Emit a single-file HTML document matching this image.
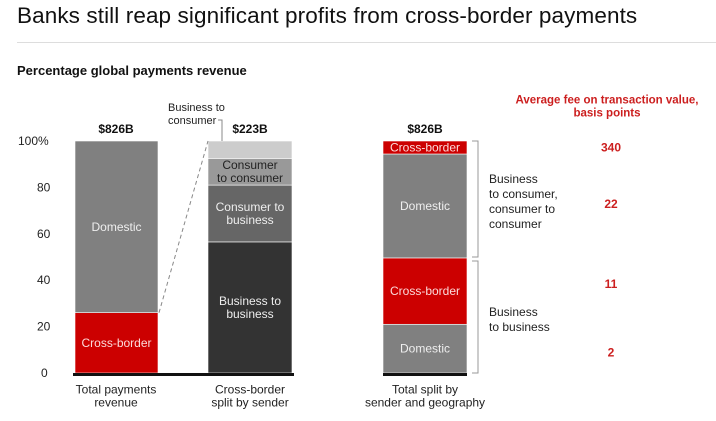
<!DOCTYPE html>
<html><head><meta charset="utf-8"><style>
body{margin:0;background:#fff;font-family:"Liberation Sans",sans-serif;}
#wrap{position:relative;width:716px;height:421px;overflow:hidden;}
h1{position:absolute;left:17px;top:3px;margin:0;font-size:22.5px;font-weight:normal;color:#111;letter-spacing:0.1px;}
#rule{position:absolute;left:17px;top:42px;width:699px;height:1px;background:#ddd;}
h2{position:absolute;left:17px;top:63px;margin:0;font-size:13px;font-weight:bold;color:#111;}
</style></head><body><div id="wrap">
<h1>Banks still reap significant profits from cross-border payments</h1>
<div id="rule"></div>
<h2>Percentage global payments revenue</h2>
<svg id="chart" width="716" height="421" style="position:absolute;left:0;top:0" font-family="Liberation Sans, sans-serif"></svg>
</div>
<script>
const ticks=[0,20,40,60,80,100];
const bar1Labels=["Cross-border","Domestic"];
const bar1Values=[26,74];
const bar2Labels=["Business to\nbusiness","Consumer to\nbusiness","Consumer\nto consumer",""];
const bar2Values=[56.5,24.5,11.5,7.5];
const bar3Labels=["Domestic","Cross-border","Domestic","Cross-border"];
const bar3Values=[21,28.6,44.8,5.6];
const fees=["2","11","22","340"];
const totals=["$826B","$223B","$826B"];

const svg=document.getElementById('chart');const NS='http://www.w3.org/2000/svg';
const y0=373,y1=141;const y=v=>y0-(v/100)*(y0-y1);
function mk(t,a,txt){const e=document.createElementNS(NS,t);for(const k in a)e.setAttribute(k,a[k]);if(txt!==undefined)e.textContent=txt;svg.appendChild(e);return e;}
function mtext(x,yc,str,a){const lines=str.split('\n');const lh=13;const e=mk('text',Object.assign({x:x,'text-anchor':'middle','font-size':12},a));lines.forEach((l,i)=>{const ts=document.createElementNS(NS,'tspan');ts.setAttribute('x',x);ts.setAttribute('y',yc+4+(i-(lines.length-1)/2)*lh);ts.textContent=l;e.appendChild(ts);});return e;}
ticks.forEach(t=>{const e=mk('text',{x:t==100?18:(t==0?41:37),y:y(t)+4,'font-size':12,fill:'#222'},t==100?'100%':String(t));

});
function stack(x,w,vals,fills,labels,txtFills,name){let acc=0;vals.forEach((v,i)=>{const r=mk('rect',{x:x,y:y(acc+v),width:w,height:y(acc)-y(acc+v),fill:fills[i],stroke:'#fff','stroke-width':0.6});


if(labels[i]){const t=mtext(x+w/2,(y(acc)+y(acc+v))/2,labels[i],{fill:txtFills[i]});

}
acc+=v;});}
stack(75,83,bar1Values,['#cc0000','#808080'],bar1Labels,['#fbdada','#eee'],'bar-total');
stack(208,84,bar2Values,['#333333','#666666','#999999','#cccccc'],bar2Labels,['#eee','#eee','#222','#222'],'bar-crossborder');
stack(383,84,bar3Values,['#808080','#cc0000','#808080','#cc0000'],bar3Labels,['#eee','#fbdada','#eee','#fbdada'],'bar-split');
const base=mk('rect',{x:73,y:373,width:221,height:3,fill:'#111'});


const base2=mk('rect',{x:383,y:373,width:84,height:3,fill:'#111'});


const dl=mk('line',{x1:159,y1:y(bar1Values[0]),x2:208,y2:y(100),stroke:'#888','stroke-dasharray':'4,3'});


[[116,totals[0]],[250,totals[1]],[425,totals[2]]].forEach((p,i)=>{const t=mk('text',{x:p[0],y:133,'text-anchor':'middle','font-size':12,'font-weight':'bold',fill:'#111'},p[1]);

});
const cl=mk('text',{x:168,'font-size':11,fill:'#222'});['Business to','consumer'].forEach((l,i)=>{const ts=document.createElementNS(NS,'tspan');ts.setAttribute('x',168);ts.setAttribute('y',111+i*13);ts.textContent=l;cl.appendChild(ts);});


const cline=mk('path',{d:'M218,120 H222 V141',stroke:'#888',fill:'none'});


[[116,"Total payments\nrevenue"],[250,"Cross-border\nsplit by sender"],[425,"Total split by\nsender and geography"]].forEach((p,i)=>{const t=mtext(p[0],396,p[1],{fill:'#222'});

});
const b1=mk('path',{d:'M472,141 H478 V257 H472',stroke:'#999',fill:'none'});


const b2=mk('path',{d:'M472,261 H478 V373 H472',stroke:'#999',fill:'none'});


const g1=mk('text',{x:489,'font-size':12,fill:'#222'});['Business','to consumer,','consumer to','consumer'].forEach((l,i)=>{const ts=document.createElementNS(NS,'tspan');ts.setAttribute('x',489);ts.setAttribute('y',183+i*15);ts.textContent=l;g1.appendChild(ts);});


const g2=mk('text',{x:489,'font-size':12,fill:'#222'});['Business','to business'].forEach((l,i)=>{const ts=document.createElementNS(NS,'tspan');ts.setAttribute('x',489);ts.setAttribute('y',316+i*15);ts.textContent=l;g2.appendChild(ts);});


const ft=mtext(607,106,"Average fee on transaction value,\nbasis points",{'font-size':11.5,'font-weight':'bold',fill:'#cc1f1f'});


const feeNudge=[4,-7,-2,0];
let acc=0;bar3Values.forEach((v,i)=>{const t=mk('text',{x:611,y:(y(acc)+y(acc+v))/2+4+feeNudge[i],'text-anchor':'middle','font-size':12,'font-weight':'bold',fill:'#cc1f1f'},fees[i]);


acc+=v;});
</script></body></html>
